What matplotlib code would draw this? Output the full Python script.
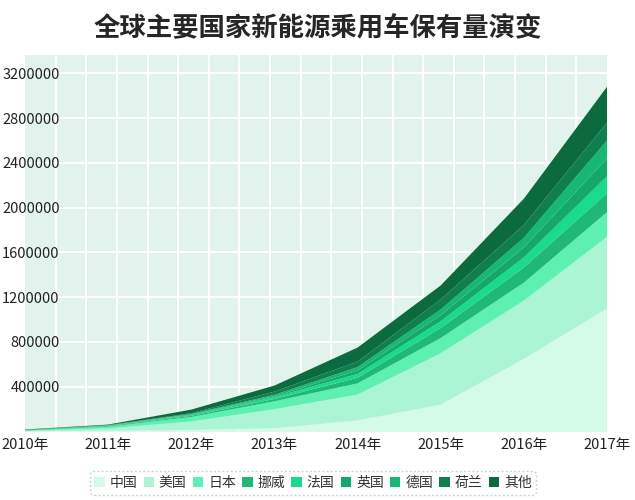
import numpy as np
import matplotlib
matplotlib.use("Agg")
import matplotlib.pyplot as plt
from matplotlib.patches import Patch

plt.rcParams['font.family'] = ['Noto Sans CJK SC', 'DejaVu Sans']

years = [2010, 2011, 2012, 2013, 2014, 2015, 2016, 2017]
year_labels = ['2010年', '2011年', '2012年', '2013年', '2014年', '2015年', '2016年', '2017年']
countries = ['中国', '美国', '日本', '挪威', '法国', '英国', '德国', '荷兰', '其他']

china       = [2000, 7000, 15000, 30000, 100000, 240000, 650000, 1100000]
usa         = [4000, 21000, 75000, 170000, 230000, 460000, 520000, 640000]
japan       = [3500, 16000, 40000, 70000, 100000, 135000, 160000, 220000]
norway      = [3400, 5400, 9600, 20500, 50000, 90000, 135000, 170000]
france      = [300, 3000, 9300, 17700, 35000, 60000, 90000, 150000]
uk          = [1000, 1200, 3300, 7300, 30000, 55000, 90000, 160000]
germany     = [500, 2300, 5300, 12200, 30000, 50000, 85000, 160000]
netherlands = [300, 1100, 6300, 28700, 50000, 90000, 115000, 160000]
others      = [3000, 5000, 32000, 54000, 125000, 125000, 235000, 320000]

y_ticks = [400000, 800000, 1200000, 1600000, 2000000, 2400000, 2800000, 3200000]

colors = ['#d4fbe8', '#abf5d5', '#5ef0b0', '#1fb877', '#18dc8b', '#14a96b',
          '#17b873', '#107f4f', '#0b6a3e']

series = [china, usa, japan, norway, france, uk, germany, netherlands, others]

fig = plt.figure(figsize=(6.35, 5.0), dpi=100)
ax = fig.add_axes([25/635, 1 - 431.5/500, 582/635, (431.5 - 55)/500])
ax.set_facecolor('#e2f3ed')

ax.stackplot(years, *series, colors=colors, linewidth=0, zorder=3)

ax.set_xlim(2010, 2017)
ax.set_ylim(0, 3364000)

ax.set_yticks(y_ticks)
ax.set_yticklabels([str(v) for v in y_ticks])
ax.set_xticks(years)
ax.set_xticklabels(year_labels)
ax.set_xticks(np.linspace(2010, 2017, 20), minor=True)

ax.grid(True, which='major', axis='y', color='white', linewidth=1.4, zorder=1)
ax.grid(True, which='minor', axis='x', color='white', linewidth=1.4, zorder=1)
ax.grid(False, which='major', axis='x')
ax.set_axisbelow(True)

for s in ax.spines.values():
    s.set_visible(False)

ax.tick_params(axis='y', which='both', length=0, pad=-25, labelsize=10.5,
               labelcolor='#222222')
for lab in ax.get_yticklabels():
    lab.set_horizontalalignment('right')
ax.tick_params(axis='x', which='both', length=0, pad=5, labelsize=10.5,
               labelcolor='#222222')

fig.text(318/635, 1 - 29/500, '全球主要国家新能源乘用车保有量演变', ha='center', va='center',
         fontsize=19, fontweight='bold', color='#262626')

handles = [Patch(facecolor=c, edgecolor='none') for c in colors]
leg = fig.legend(handles, countries, loc='center', bbox_to_anchor=(313/635, 1 - 483/500),
                 ncol=9, frameon=True, fontsize=10, handlelength=0.75, handleheight=0.75,
                 handletextpad=0.35, columnspacing=0.45, borderpad=0.35)
frame = leg.get_frame()
frame.set_edgecolor('#b5cfc4')
frame.set_linestyle((0, (1.5, 1.5)))
frame.set_linewidth(1.0)
frame.set_facecolor('white')
frame.set_boxstyle('round,pad=0,rounding_size=0.3')
for t in leg.get_texts():
    t.set_color('#333333')

fig.savefig('out.png', dpi=100, facecolor='white')
